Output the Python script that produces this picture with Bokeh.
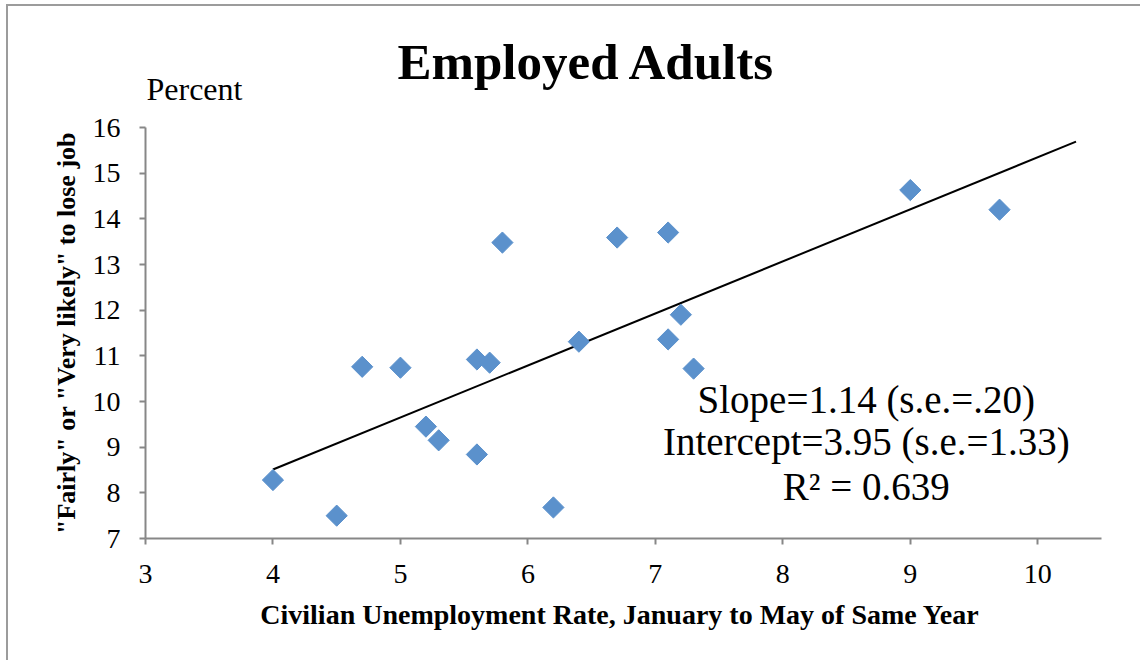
import numpy as np
from bokeh.models import Range1d, FixedTicker, Label, ColumnDataSource, Title
from bokeh.plotting import figure
from bokeh.embed import file_html
from bokeh.resources import INLINE

# unemployment rate (Jan-May) vs percent fairly/very likely to lose job
unemp = [4.0, 4.5, 4.7, 5.0, 5.2, 5.3, 5.6, 5.6, 5.7, 5.8,
         6.2, 6.4, 6.7, 7.1, 7.1, 7.2, 7.3, 9.0, 9.7]
lose_job = [8.28, 7.50, 10.76, 10.74, 9.45, 9.15, 10.92, 8.84, 10.85, 13.48,
            7.68, 11.31, 13.59, 13.70, 11.36, 11.90, 10.72, 14.63, 14.20]

# fitted trend line end points
trend_x = [4.0, 10.3]
trend_y = [8.51, 15.69]

x_ticks = [3, 4, 5, 6, 7, 8, 9, 10]
y_ticks = [7, 8, 9, 10, 11, 12, 13, 14, 15, 16]

stats = ["Slope=1.14 (s.e.=.20)", "Intercept=3.95 (s.e.=1.33)", "R\u00b2 = 0.639"]

SERIF = "Liberation Serif"
AXIS_GRAY = "#878787"
BORDER = "#9c9c9c"

p = figure(frame_width=956, frame_height=411,
           min_border_left=145, min_border_right=39,
           min_border_top=127, min_border_bottom=122,
           x_range=Range1d(3, 10.5), y_range=Range1d(7, 16),
           output_backend="svg", toolbar_location=None)
p.border_fill_alpha = 0
p.outline_line_color = None
p.grid.visible = False
# chart-area border (top and left edges only are in view)
p.styles = {"background":
            f"linear-gradient({BORDER},{BORDER}) 7px 4px / 100% 2px no-repeat, "
            f"linear-gradient({BORDER},{BORDER}) 6px 4px / 2px 100% no-repeat"}

p.title.text = "Employed Adults"
p.title.text_font = SERIF
p.title.text_font_size = "51px"
p.title.text_font_style = "bold"
p.title.text_color = "black"
p.title.align = "left"
p.title.offset = 252
p.title.standoff = -85

# unit note above the value axis
p.add_layout(Title(text="Percent", text_font=SERIF, text_font_size="32px",
                   text_font_style="normal", text_color="black",
                   align="left", offset=1, standoff=42), "above")

p.xaxis.ticker = FixedTicker(ticks=x_ticks)
p.yaxis.ticker = FixedTicker(ticks=y_ticks)
for ax in (p.xaxis, p.yaxis):
    ax.axis_line_color = AXIS_GRAY
    ax.axis_line_width = 2
    ax.major_tick_line_color = AXIS_GRAY
    ax.major_tick_line_width = 2
    ax.major_tick_out = 6
    ax.major_tick_in = 0
    ax.minor_tick_line_color = None
    ax.major_label_text_font = SERIF
    ax.major_label_text_font_size = "28px"
    ax.major_label_text_color = "black"
    ax.axis_label_text_font = SERIF
    ax.axis_label_text_font_style = "bold"
    ax.axis_label_text_color = "black"

p.xaxis.axis_label = "Civilian Unemployment Rate, January to  May of Same Year"
p.yaxis.axis_label = '"Fairly" or "Very likely" to lose job'
p.xaxis.axis_label_text_font_size = "28px"
p.yaxis.axis_label_text_font_size = "26px"
p.xaxis.major_label_standoff = 20
p.xaxis.axis_label_standoff = 13
p.yaxis.major_label_standoff = 19
p.yaxis.axis_label_standoff = 9

src = ColumnDataSource(dict(x=unemp, y=lose_job))
p.line(trend_x, trend_y, line_color="black", line_width=2)
p.scatter("x", "y", source=src, marker="square", size=15, angle=np.pi / 4,
          fill_color="#5B91CC", line_color="#5B91CC")

for txt, yy in zip(stats, [10.04, 9.12, 8.14]):
    p.add_layout(Label(x=8.655, y=yy, text=txt, text_font=SERIF,
                       text_font_size="39px", text_align="center",
                       text_color="black", text_baseline="alphabetic"))

open("out.html", "w").write(file_html(p, INLINE))
